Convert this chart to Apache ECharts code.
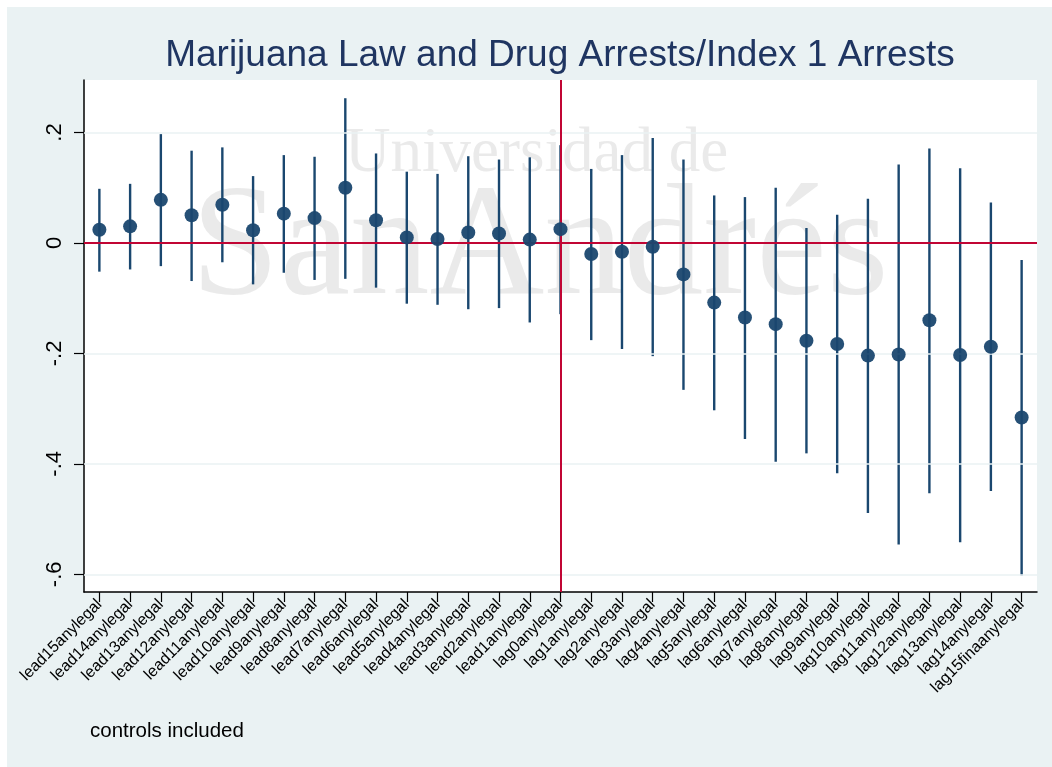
<!DOCTYPE html>
<html>
<head>
<meta charset="utf-8">
<script src="https://cdn.jsdelivr.net/npm/echarts@6/dist/echarts.min.js"></script>
<style>
  html, body { margin: 0; padding: 0; background: #ffffff; }
  #frame { position: absolute; left: 7px; top: 7px; width: 1045px; height: 760px; background: #eaf2f3; }
  #chart { position: absolute; left: 0; top: 0; width: 1052px; height: 767px; }
</style>
</head>
<body>
<div id="frame"></div>
<div id="chart"></div>
<script>
// Event-study coefficients: leads and lags of legal marijuana status
const categories = [
  'lead15anylegal', 'lead14anylegal', 'lead13anylegal', 'lead12anylegal', 'lead11anylegal',
  'lead10anylegal', 'lead9anylegal', 'lead8anylegal', 'lead7anylegal', 'lead6anylegal',
  'lead5anylegal', 'lead4anylegal', 'lead3anylegal', 'lead2anylegal', 'lead1anylegal',
  'lag0anylegal', 'lag1anylegal', 'lag2anylegal', 'lag3anylegal', 'lag4anylegal',
  'lag5anylegal', 'lag6anylegal', 'lag7anylegal', 'lag8anylegal', 'lag9anylegal',
  'lag10anylegal', 'lag11anylegal', 'lag12anylegal', 'lag13anylegal', 'lag14anylegal',
  'lag15finaanylegal'
];

// Point estimates
const coef = [
  0.024, 0.030, 0.078, 0.050, 0.069, 0.023, 0.053, 0.045, 0.100, 0.041,
  0.010, 0.007, 0.019, 0.017, 0.006, 0.025, -0.020, -0.016, -0.007, -0.057,
  -0.108, -0.135, -0.147, -0.177, -0.183, -0.204, -0.202, -0.140, -0.203, -0.188,
  -0.316
];

// Confidence interval bounds
const upper = [
  0.098, 0.107, 0.197, 0.167, 0.173, 0.121, 0.159, 0.156, 0.262, 0.162,
  0.129, 0.125, 0.157, 0.151, 0.155, 0.177, 0.134, 0.159, 0.190, 0.151,
  0.086, 0.083, 0.100, 0.027, 0.051, 0.080, 0.142, 0.171, 0.135, 0.073,
  -0.031
];
const lower = [
  -0.052, -0.048, -0.042, -0.069, -0.035, -0.075, -0.054, -0.067, -0.065, -0.081,
  -0.110, -0.112, -0.120, -0.118, -0.144, -0.129, -0.176, -0.192, -0.205, -0.266,
  -0.303, -0.355, -0.396, -0.381, -0.417, -0.489, -0.546, -0.453, -0.542, -0.449,
  -0.602
];

// Y axis ticks
const yTickValues = [-0.6, -0.4, -0.2, 0, 0.2];
const yTickLabels = ['-.6', '-.4', '-.2', '0', '.2'];

const titleText = 'Marijuana Law and Drug Arrests/Index 1 Arrests';
const noteText = 'controls included';
const eventCategory = 'lag0anylegal';

const navy = '#1a476f';
const cranberry = '#c10534';

const chart = echarts.init(document.getElementById('chart'), null, { renderer: 'canvas' });

const option = {
  backgroundColor: 'transparent',
  animation: false,
  title: {
    text: titleText,
    left: 555,
    textAlign: 'center',
    top: 32,
    textStyle: {
      fontFamily: 'Liberation Sans, Arial, sans-serif',
      fontSize: 37,
      fontWeight: 'normal',
      color: '#1f3561'
    }
  },
  graphic: [
    {
      type: 'text',
      left: 90,
      top: 721,
      style: {
        text: noteText,
        font: '20.5px "Liberation Sans", Arial, sans-serif',
        fill: '#000000'
      }
    },
    {
      type: 'text',
      left: 345,
      top: 123,
      z: 1,
      silent: true,
      style: {
        text: 'Universidad de',
        font: '63px "Liberation Serif", "Times New Roman", serif',
        fill: 'rgba(200,200,200,0.38)'
      }
    },
    {
      type: 'text',
      left: 191,
      top: 172,
      z: 1,
      silent: true,
      style: {
        text: 'SanAndrés',
        font: '159px "Liberation Serif", "Times New Roman", serif',
        fill: 'rgba(200,200,200,0.38)'
      }
    }
  ],
  grid: {
    left: 84,
    right: 15,
    top: 80,
    bottom: 175,
    show: true,
    backgroundColor: '#ffffff',
    borderWidth: 0
  },
  xAxis: {
    type: 'category',
    data: categories,
    boundaryGap: true,
    axisLine: { show: true, onZero: false, lineStyle: { color: '#000000', width: 1.5 } },
    axisTick: { show: true, alignWithLabel: true, length: 10, lineStyle: { color: '#000000', width: 1.2 } },
    axisLabel: {
      interval: 0,
      rotate: 45,
      margin: 10,
      fontSize: 16,
      color: '#000000',
      fontFamily: 'Liberation Sans, Arial, sans-serif'
    },
    splitLine: { show: false }
  },
  yAxis: {
    type: 'value',
    min: -0.632,
    max: 0.295,
    axisLine: { show: true, lineStyle: { color: '#000000', width: 1.5 } },
    axisTick: { show: true, length: 10, customValues: yTickValues, lineStyle: { color: '#000000', width: 1.2 } },
    axisLabel: {
      customValues: yTickValues,
      rotate: 90,
      margin: 18,
      fontSize: 22,
      color: '#000000',
      fontFamily: 'Liberation Sans, Arial, sans-serif',
      formatter: function (v) {
        for (let i = 0; i < yTickValues.length; i++) {
          if (Math.abs(yTickValues[i] - v) < 1e-9) return yTickLabels[i];
        }
        return '';
      }
    },
    splitLine: { show: false }
  },
  series: [
    {
      // light horizontal gridlines at the labelled ticks
      type: 'line',
      data: [],
      z: 1,
      silent: true,
      markLine: {
        silent: true,
        symbol: 'none',
        label: { show: false },
        lineStyle: { color: '#eaf2f3', width: 1.5, type: 'solid' },
        data: yTickValues.map(v => ({ yAxis: v }))
      }
    },
    {
      // vertical reference line at the event year
      type: 'line',
      data: [],
      z: 2,
      silent: true,
      markLine: {
        silent: true,
        symbol: 'none',
        label: { show: false },
        lineStyle: { color: cranberry, width: 2, type: 'solid' },
        data: [{ xAxis: eventCategory }]
      }
    },
    {
      // confidence intervals
      type: 'custom',
      z: 3,
      data: categories.map((c, i) => [i, lower[i], upper[i]]),
      encode: { x: 0, y: [1, 2] },
      renderItem: function (params, api) {
        const i = api.value(0);
        const lo = api.coord([i, api.value(1)]);
        const hi = api.coord([i, api.value(2)]);
        return {
          type: 'line',
          shape: { x1: lo[0], y1: lo[1], x2: hi[0], y2: hi[1] },
          style: { stroke: navy, lineWidth: 2.4 }
        };
      }
    },
    {
      // horizontal zero line
      type: 'line',
      data: [],
      z: 4,
      silent: true,
      markLine: {
        silent: true,
        symbol: 'none',
        label: { show: false },
        lineStyle: { color: cranberry, width: 2, type: 'solid' },
        data: [{ yAxis: 0 }]
      }
    },
    {
      // point estimates
      type: 'scatter',
      z: 5,
      data: coef,
      symbol: 'circle',
      symbolSize: 14,
      itemStyle: { color: navy, opacity: 0.95 }
    }
  ]
};

chart.setOption(option);
</script>
</body>
</html>
